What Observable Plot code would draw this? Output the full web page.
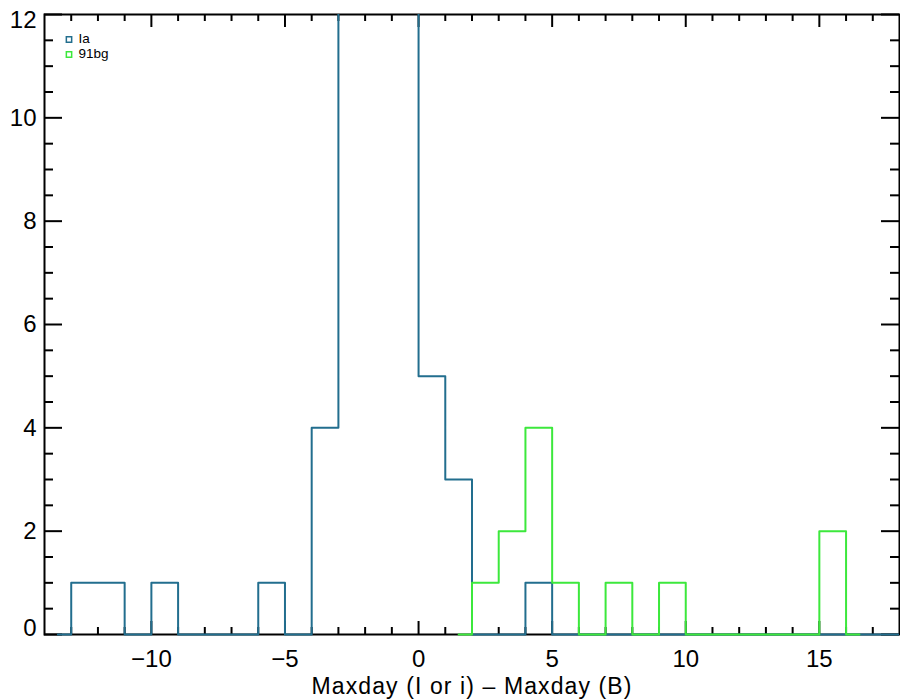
<!DOCTYPE html>
<html><head><meta charset="utf-8">
<script src="https://cdn.jsdelivr.net/npm/d3@7"></script>
<script src="https://cdn.jsdelivr.net/npm/@observablehq/plot@0.6"></script>
<style>body{margin:0;background:#fff;} #chart svg{display:block;}</style>
</head><body><div id="chart"></div>
<script>
// Histogram step edges (left edge of each bin; first/last are half-bin ends) and counts
const iaEdges  = [-13.5,-13,-12,-11,-10,-9,-8,-7,-6,-5,-4,-3,-2,-1,0,1,2,3,4,5,6,7,8,9,10,11,12,13,14,15,16,17,18,18.5];
const iaCounts = [0,1,1,0,1,0,0,0,1,0,4,15,22,17,5,3,0,0,1,0,0,0,0,0,0,0,0,0,0,0,0,0,0,0];
const bgEdges  = [1.5,2,3,4,5,6,7,8,9,10,11,12,13,14,15,16,16.5];
const bgCounts = [0,1,2,4,1,0,1,0,1,0,0,0,0,0,2,0,0];
const seriesNames = ["Ia", "91bg"];
const seriesColors = ["#226e8e", "#3ce83c"];
// Tick positions and labels
const xMajor = [-10,-5,0,5,10,15];
const xMinor = [-13,-12,-11,-9,-8,-7,-6,-4,-3,-2,-1,1,2,3,4,6,7,8,9,11,12,13,14,16,17];
const yMajor = [0,2,4,6,8,10,12];
const yMid = [2,4,6,8,10];
const yMinor = [0.5,1,1.5,2.5,3,3.5,4.5,5,5.5,6.5,7,7.5,8.5,9,9.5,10.5,11,11.5];
const xLabel = "Maxday (I or i) \u2013 Maxday (B)";

const W = 900, H = 700, mL = 44, mR = 1, mT = 14, mB = 66;
const pw = W - mL - mR, ph = H - mT - mB;
const xMajLen = 13, xMinLen = 7, yMajLen = 18, yMinLen = 9;

const pts = (edges, counts) => edges.map((x, i) => ({x, y: counts[i]}));

const tickStyle = {stroke: "black", strokeWidth: 2};
const yAxisStyle = {tickSize: 0, tickPadding: 8, fontSize: 24, label: null};
const chart = Plot.plot({
  width: W, height: H,
  marginLeft: mL, marginRight: mR, marginTop: mT, marginBottom: mB,
  style: {fontFamily: "'Liberation Sans', Arial, Helvetica, sans-serif", background: "white", color: "black"},
  x: {domain: [-14, 18]},
  y: {domain: [0, 12]},
  marks: [
    Plot.frame({stroke: "black", strokeWidth: 2}),
    // inward ticks on all four sides
    Plot.tickX(xMajor, {x: d => d, insetTop: ph - xMajLen, ...tickStyle}),
    Plot.tickX(xMinor, {x: d => d, insetTop: ph - xMinLen, ...tickStyle}),
    Plot.tickX(xMajor, {x: d => d, insetBottom: ph - xMajLen, ...tickStyle}),
    Plot.tickX(xMinor, {x: d => d, insetBottom: ph - xMinLen, ...tickStyle}),
    Plot.tickY(yMajor, {y: d => d, insetRight: pw - yMajLen, ...tickStyle}),
    Plot.tickY(yMinor, {y: d => d, insetRight: pw - yMinLen, ...tickStyle}),
    Plot.tickY(yMajor, {y: d => d, insetLeft: pw - yMajLen, ...tickStyle}),
    Plot.tickY(yMinor, {y: d => d, insetLeft: pw - yMinLen, ...tickStyle}),
    Plot.axisX({ticks: xMajor, tickSize: 0, tickPadding: 15, fontSize: 24, label: xLabel, labelAnchor: "center", labelArrow: "none", labelOffset: 59}),
    Plot.axisY({ticks: yMid, ...yAxisStyle}),
    Plot.axisY({ticks: [yMajor[yMajor.length - 1]], ...yAxisStyle, dy: 6}),
    Plot.axisY({ticks: [yMajor[0]], ...yAxisStyle, dy: -6}),
    // histograms
    Plot.line(pts(iaEdges, iaCounts), {x: "x", y: "y", curve: "step-after", stroke: seriesColors[0], strokeWidth: 2, clip: true}),
    Plot.line(pts(bgEdges, bgCounts), {x: "x", y: "y", curve: "step-after", stroke: seriesColors[1], strokeWidth: 2, clip: true}),
    // legend
    ...seriesNames.map((name, i) => Plot.dot([name], {frameAnchor: "top-left", dx: 24.5, dy: 25 + 15 * i, symbol: "square", r: 3, stroke: seriesColors[i], strokeWidth: 1.5, fill: "none"})),
    ...seriesNames.map((name, i) => Plot.text([name], {text: d => d, frameAnchor: "top-left", dx: 34, dy: 24 + 15 * i, textAnchor: "start", lineAnchor: "middle", fontSize: 13.5, fill: "black"}))
  ]
});
// x-axis title styling
chart.querySelectorAll('[aria-label="x-axis label"] text').forEach(t => {
  t.setAttribute("font-size", 23);
  t.setAttribute("letter-spacing", "1.1px");
});
// let the zero-level steps cover the bottom edge of the frame (as in the original)
chart.querySelectorAll("clipPath rect").forEach(r => {
  const h = +r.getAttribute("height");
  if (h) r.setAttribute("height", h + 2);
});
document.getElementById("chart").appendChild(chart);
</script>
</body></html>
